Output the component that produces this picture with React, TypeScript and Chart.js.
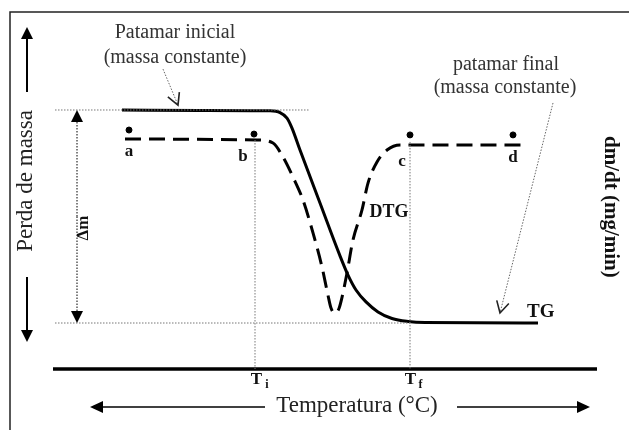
import React, { useEffect, useRef } from "react";
import { Chart, registerables } from "chart.js";

Chart.register(...registerables);

// x: temperature (arbitrary units), y: mass (0 = final plateau, 100 = initial plateau)
const tgX = [24.4, 40, 54, 56, 57.4, 58.4, 60, 64, 68, 69.6, 71.2, 73.2, 75.6, 78.4, 81.6, 85, 107.6];
const tgY = [100, 99.8, 99.6, 98.8, 96.2, 91.5, 81.2, 56.3, 31.5, 22.5, 15.5, 9.9, 5.2, 2.1, 0.7, 0.2, 0];

const dtgX = [25, 51.4, 54.6, 56.6, 58.6, 60.6, 62.6, 64.4, 65.6, 66.2, 67, 67.8, 68.4, 69.4, 70.6, 72.4, 73.6, 75.4, 77.4, 80, 82, 104.4];
const dtgY = [86.4, 85.9, 84.5, 77.9, 68.5, 57.7, 42.3, 26.3, 13.0, 7.0, 4.7, 6.8, 12.0, 23.5, 39.0, 53.1, 65.7, 75.6, 81.2, 83.6, 83.6, 83.6];

const pointNames = ["a", "b", "c", "d"];
const pointX = [25.8, 50.8, 82, 102.6];
const pointY = [90.6, 88.7, 88.3, 88.3];

const Ti = 51;
const Tf = 82;
const massTop = 100;
const massBottom = 0;
const axisLevel = -21.6;

const X_MIN = 0, X_MAX = 125.8, Y_MIN = -50.23, Y_MAX = 151.64;

const serif = '"Liberation Serif", "Times New Roman", serif';

function toPts(xs: number[], ys: number[]) {
  return xs.map((x, i) => ({ x, y: ys[i] }));
}

const overlay = {
  id: "overlay",
  afterDatasetsDraw(chart: any) {
    const ctx = chart.ctx as CanvasRenderingContext2D;
    const sx = chart.scales.x, sy = chart.scales.y;
    const X = (v: number) => sx.getPixelForValue(v);
    const Y = (v: number) => sy.getPixelForValue(v);
    ctx.save();

    // frame
    ctx.strokeStyle = "#222";
    ctx.lineWidth = 1.5;
    ctx.beginPath();
    ctx.moveTo(X(2), Y(Y_MIN));
    ctx.lineTo(X(2), Y(146));
    ctx.lineTo(X(X_MAX), Y(146));
    ctx.stroke();

    const solidArrow = (x1: number, y1: number, x2: number, y2: number, lw: number, len = 12, hw = 6, dash: number[] = []) => {
      const p1x = X(x1), p1y = Y(y1), p2x = X(x2), p2y = Y(y2);
      const ang = Math.atan2(p2y - p1y, p2x - p1x);
      ctx.save();
      ctx.strokeStyle = "#000";
      ctx.fillStyle = "#000";
      ctx.lineWidth = lw;
      ctx.setLineDash(dash);
      ctx.beginPath();
      ctx.moveTo(p1x, p1y);
      ctx.lineTo(p2x - Math.cos(ang) * len * 0.8, p2y - Math.sin(ang) * len * 0.8);
      ctx.stroke();
      ctx.setLineDash([]);
      ctx.beginPath();
      ctx.moveTo(p2x, p2y);
      ctx.lineTo(p2x - Math.cos(ang) * len - Math.sin(ang) * hw, p2y - Math.sin(ang) * len + Math.cos(ang) * hw);
      ctx.lineTo(p2x - Math.cos(ang) * len + Math.sin(ang) * hw, p2y - Math.sin(ang) * len - Math.cos(ang) * hw);
      ctx.closePath();
      ctx.fill();
      ctx.restore();
    };

    const openArrow = (x1: number, y1: number, x2: number, y2: number) => {
      const p1x = X(x1), p1y = Y(y1), p2x = X(x2), p2y = Y(y2);
      const ang = Math.atan2(p2y - p1y, p2x - p1x);
      ctx.save();
      ctx.strokeStyle = "#666";
      ctx.lineWidth = 1;
      ctx.setLineDash([1.5, 1.5]);
      ctx.beginPath();
      ctx.moveTo(p1x, p1y);
      ctx.lineTo(p2x, p2y);
      ctx.stroke();
      ctx.setLineDash([]);
      ctx.strokeStyle = "#222";
      ctx.lineWidth = 1.6;
      const L = 13, a = 0.5;
      ctx.beginPath();
      ctx.moveTo(p2x - Math.cos(ang - a) * L, p2y - Math.sin(ang - a) * L);
      ctx.lineTo(p2x, p2y);
      ctx.lineTo(p2x - Math.cos(ang + a) * L, p2y - Math.sin(ang + a) * L);
      ctx.stroke();
      ctx.restore();
    };

    // side arrows
    solidArrow(5.4, 108.5, 5.4, 139, 2);
    solidArrow(5.4, 21.6, 5.4, -8.9, 2);
    // delta m double arrow
    solidArrow(15.4, 50, 15.4, 100, 1, 12, 6, [1.5, 1.5]);
    solidArrow(15.4, 50, 15.4, 0, 1, 12, 6, [1.5, 1.5]);
    // temperature arrows
    solidArrow(53, -39.4, 18, -39.4, 1.5, 13, 6);
    solidArrow(91.4, -39.4, 118, -39.4, 1.5, 13, 6);
    // annotation arrows
    openArrow(32.6, 119.2, 35.6, 102.3);
    openArrow(110.6, 103.3, 100, 4.7);

    const text = (s: string, x: number, y: number, font: string, color = "#000", align: CanvasTextAlign = "center", rot = 0) => {
      ctx.save();
      ctx.font = font;
      ctx.fillStyle = color;
      ctx.textAlign = align;
      ctx.textBaseline = "middle";
      ctx.translate(X(x), Y(y));
      ctx.rotate(rot);
      ctx.fillText(s, 0, 0);
      ctx.restore();
    };

    text("Patamar inicial", 35, 136.2, `20px ${serif}`, "#333");
    text("(massa constante)", 35, 124.4, `20px ${serif}`, "#333");
    text("patamar final", 101.2, 121.1, `20px ${serif}`, "#333");
    text("(massa constante)", 101, 110.3, `20px ${serif}`, "#333");
    text("Perda de massa", 5.1, 66.7, `23px ${serif}`, "#222", "center", -Math.PI / 2);
    text("Δm", 16.8, 44.6, `bold 17px ${serif}`, "#111", "center", -Math.PI / 2);
    text("dm/dt (mg/min)", 122, 54.5, `bold 21px ${serif}`, "#111", "center", Math.PI / 2);
    text("Temperatura (°C)", 71.4, -39.0, `23px ${serif}`, "#222");
    text("TG", 105.4, 5.2, `bold 19px ${serif}`, "#111", "left");
    text("DTG", 77.8, 52.1, `bold 18px ${serif}`, "#111");
    text("T", Ti + 0.3, -26.5, `bold 17px ${serif}`, "#111");
    text("i", Ti + 2.4, -29.0, `bold 12px ${serif}`, "#111");
    text("T", Tf + 0.1, -26.5, `bold 17px ${serif}`, "#111");
    text("f", Tf + 2.1, -29.0, `bold 12px ${serif}`, "#111");
    const lblPos = [[25.8, 80.3], [48.6, 77.9], [80.4, 75.6], [102.6, 77.5]];
    pointNames.forEach((n, i) => text(n, lblPos[i][0], lblPos[i][1], `bold 17px ${serif}`, "#111"));

    ctx.restore();
  },
};

export default function App() {
  const ref = useRef<HTMLCanvasElement | null>(null);
  useEffect(() => {
    if (!ref.current) return;
    const dotted = { borderColor: "#777", borderWidth: 1, borderDash: [1.5, 1.5], pointRadius: 0, tension: 0, fill: false };
    const chart = new Chart(ref.current, {
      type: "line",
      data: {
        datasets: [
          { ...dotted, data: [{ x: 11, y: massTop }, { x: 62, y: massTop }] } as any,
          { ...dotted, data: [{ x: 11, y: massBottom }, { x: 82, y: massBottom }] } as any,
          { ...dotted, data: [{ x: Ti, y: 85.9 }, { x: Ti, y: axisLevel }] } as any,
          { ...dotted, data: [{ x: Tf, y: 85 }, { x: Tf, y: axisLevel }] } as any,
          {
            data: [{ x: 10.6, y: axisLevel }, { x: 119.4, y: axisLevel }],
            borderColor: "#000", borderWidth: 3.5, pointRadius: 0, tension: 0,
          } as any,
          {
            label: "TG",
            data: toPts(tgX, tgY),
            borderColor: "#000", borderWidth: 3, pointRadius: 0,
            cubicInterpolationMode: "monotone",
          } as any,
          {
            label: "DTG",
            data: toPts(dtgX, dtgY),
            borderColor: "#000", borderWidth: 3, borderDash: [16, 8], pointRadius: 0,
            cubicInterpolationMode: "monotone",
          } as any,
          {
            type: "scatter",
            data: toPts(pointX, pointY),
            backgroundColor: "#000", borderColor: "#000", pointRadius: 3, showLine: false,
          } as any,
        ],
      },
      options: {
        responsive: false,
        animation: false,
        events: [],
        layout: { padding: 0, autoPadding: false },
        plugins: { legend: { display: false }, tooltip: { enabled: false }, title: { display: false } },
        scales: {
          x: { type: "linear", min: X_MIN, max: X_MAX, display: false },
          y: { type: "linear", min: Y_MIN, max: Y_MAX, display: false },
        },
      },
      plugins: [overlay],
    });
    return () => chart.destroy();
  }, []);
  return (
    <div style={{ position: "absolute", left: 0, top: 0, width: 629, height: 430, background: "#fff" }}>
      <canvas ref={ref} width={629} height={430} style={{ display: "block", width: 629, height: 430 }} />
    </div>
  );
}
